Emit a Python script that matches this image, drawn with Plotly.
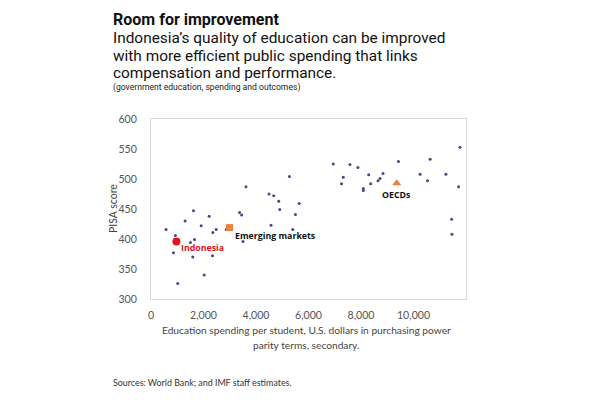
import plotly.graph_objects as go

# Countries: education spending per student (PPP USD, secondary) vs PISA score
spend = [573, 930, 854, 1019, 1299, 1618, 1656, 1503, 1592, 1911, 2216, 2025, 2356,
         2484, 2344, 2866, 3375, 3452, 3618, 3503, 4497, 4675, 4866, 4904, 4573, 5273,
         5643, 5503, 5401, 6942, 7325, 7260, 7578, 7884, 8292, 8089, 8089, 8369, 8648,
         8724, 8839, 9427, 10253, 10534, 10634, 11234, 11769, 11719, 11452, 11464]
pisa = [416, 406, 377, 326, 430, 447, 399, 394, 370, 422, 438, 340, 411,
        416, 372, 416, 444, 440, 487, 396, 475, 472, 463, 449, 423, 504,
        459, 441, 416, 525, 503, 492, 524, 519, 507, 484, 481, 492, 497,
        501, 509, 529, 508, 497, 533, 508, 553, 487, 433, 408]

highlight_names = ["Indonesia", "Emerging markets", "OECDs"]
highlight_x = [968, 2993, 9362]
highlight_y = [396, 419, 493]

x_ticks = [0, 2000, 4000, 6000, 8000, 10000]
y_ticks = [300, 350, 400, 450, 500, 550, 600]

fig = go.Figure()
fig.add_trace(go.Scatter(x=spend, y=pisa, mode="markers",
                         marker=dict(size=3, color="#4f4480"), hoverinfo="x+y",
                         showlegend=False))
fig.add_trace(go.Scatter(x=[highlight_x[0]], y=[highlight_y[0]], mode="markers",
                         marker=dict(size=8, color="#e3121b", symbol="circle"),
                         showlegend=False))
fig.add_trace(go.Scatter(x=[highlight_x[1]], y=[highlight_y[1]], mode="markers",
                         marker=dict(size=7, color="#e8823e", symbol="square"),
                         showlegend=False))
fig.add_trace(go.Scatter(x=[highlight_x[2]], y=[highlight_y[2]], mode="markers",
                         marker=dict(size=8, color="#e8823e", symbol="triangle-up"),
                         showlegend=False))

axis_font = dict(family="Lato, Open Sans, sans-serif", size=10.6, color="#555555")

fig.update_xaxes(range=[0, 12000], tickvals=x_ticks,
                 ticktext=[f"{v:,}" for v in x_ticks], showgrid=False, zeroline=False,
                 showline=True, linecolor="#d9d9d9", linewidth=1, mirror=True,
                 tickfont=axis_font, ticks="", ticklabelstandoff=6)
fig.update_yaxes(range=[300, 600], tickvals=y_ticks, showgrid=False, zeroline=False,
                 showline=True, linecolor="#d9d9d9", linewidth=1, mirror=True,
                 tickfont=axis_font, ticks="", ticklabelstandoff=11)

# plot-area edges in page pixels (page body adds an 8px offset)
OFF = 8
W0, W1, H0, H1 = 151, 466, 119, 299


def px(x):
    return (x - W0) / (W1 - W0)


def py(y):
    return (H1 - y) / (H1 - H0)


ann = []


def add(text, x, y, size, color="#111111", family="Roboto, sans-serif", xanchor="left",
        angle=0):
    ann.append(dict(text=text, x=px(x), y=py(y), xref="paper", yref="paper",
                    xanchor=xanchor, yanchor="middle", showarrow=False, textangle=angle,
                    font=dict(size=size, color=color, family=family)))


add("<b>Room for improvement</b>", 111, 20, 16, color="#111111")
add("Indonesia\u2019s quality of education can be improved", 111, 38, 15.4)
add("with more efficient public spending that links", 111, 56, 15.4)
add("compensation and performance.", 111, 73, 15.4)
add("(government education, spending and outcomes)", 111, 88, 8.6, color="#222222")
add("Education spending per student, U.S. dollars in purchasing power", 306, 330, 10.2,
    color="#444444", family="Lato, sans-serif", xanchor="center")
add("parity terms, secondary.", 306, 345, 10.2, color="#444444", family="Lato, sans-serif",
    xanchor="center")
add("PISA score", 113, 209, 10.5, color="#444444", family="Lato, sans-serif",
    xanchor="center", angle=-90)
add("Sources: World Bank; and IMF staff estimates.", 111, 382, 8.9, color="#333333",
    family="Lato, sans-serif")

# data-point labels (positioned in data coordinates)
label_specs = [("<b>Indonesia</b>", "#e3121b", 3, -7, "left"),
               ("<b>Emerging markets</b>", "#111111", 3, -8, "left"),
               ("<b>OECDs</b>", "#111111", 0, -12, "center")]
for i, (t, c, dx, dy, xa) in enumerate(label_specs):
    ann.append(dict(text=t, x=highlight_x[i], y=highlight_y[i], xref="x", yref="y",
                    xanchor=xa, yanchor="middle", xshift=dx, yshift=dy, showarrow=False,
                    font=dict(size=8.8, color=c, family="Open Sans, sans-serif")))

fig.update_layout(width=600, height=400,
                  margin=dict(l=W0 - OFF, r=600 - (W1 - OFF), t=H0 - OFF, b=400 - (H1 - OFF)),
                  paper_bgcolor="white", plot_bgcolor="white", annotations=ann,
                  showlegend=False)

fig.write_html("out.html")
